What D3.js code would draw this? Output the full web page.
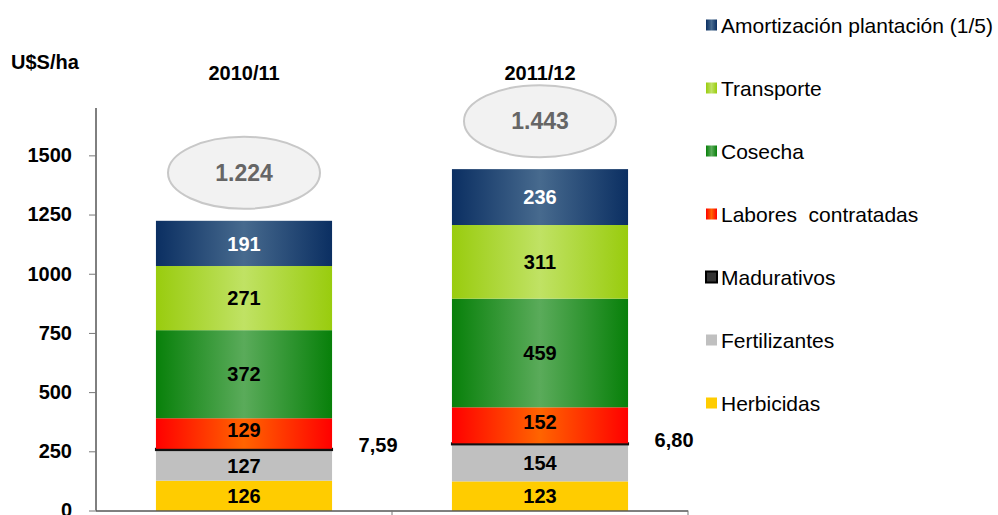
<!DOCTYPE html>
<meta charset="utf-8">
<script src="https://cdn.jsdelivr.net/npm/d3@7"></script>
<style>
  body { margin: 0; background: #fff; }
  text { font-family: "Liberation Sans", Arial, sans-serif; }
</style>
<body>
<script>

var width = 998
var height = 515

// data
var years = ["2010/11", "2011/12"]
var series = ["Herbicidas", "Fertilizantes", "Madurativos", "Labores  contratadas", "Cosecha", "Transporte", "Amortización plantación (1/5)"]
var herbicidas    = [126, 123]
var fertilizantes = [127, 154]
var madurativos   = [7.59, 6.80]
var labores       = [129, 152]
var cosecha       = [372, 459]
var transporte    = [271, 311]
var amortizacion  = [191, 236]
var totals = ["1.224", "1.443"]
var madLabels = ["7,59", "6,80"]
var yTicks = [0, 250, 500, 750, 1000, 1250, 1500]

var values = [herbicidas, fertilizantes, madurativos, labores, cosecha, transporte, amortizacion]

var x = d3.scaleBand().domain(years).range([96, 688]).paddingInner(0.405).paddingOuter(0.2025)
var y = d3.scaleLinear().domain([0, 1700]).range([510.5, 108])

var svg = d3.select("body").append("svg")
    .attr("width", width)
    .attr("height", height)

var defs = svg.append("defs")
function grad(id, edge, mid) {
  var g = defs.append("linearGradient").attr("id", id)
    .attr("x1", "0%").attr("x2", "100%").attr("y1", "0%").attr("y2", "0%")
  g.append("stop").attr("offset", "0%").attr("stop-color", edge)
  g.append("stop").attr("offset", "50%").attr("stop-color", mid)
  g.append("stop").attr("offset", "100%").attr("stop-color", edge)
}
grad("g-amort", "#0b2f62", "#476a8e")
grad("g-trans", "#99cc0e", "#c0e264")
grad("g-cos", "#08800a", "#5aab5a")
grad("g-lab", "#ff0000", "#ff6400")

var fills = ["#ffcc00", "#c0c0c0", "#111", "url(#g-lab)", "url(#g-cos)", "url(#g-trans)", "url(#g-amort)"]
var labelColors = ["#000", "#000", "#000", "#000", "#000", "#000", "#fff"]

// stack
var table = years.map(function(yr, i) {
  var row = {year: yr}
  series.forEach(function(s, k) { row[s] = values[k][i] })
  return row
})
var stacked = d3.stack().keys(series)(table)

var layers = svg.selectAll("g.layer").data(stacked).enter().append("g")
    .attr("class", "layer")

layers.each(function(layer, k) {
  var g = d3.select(this)
  g.selectAll("rect").data(layer).enter().append("rect")
    .attr("x", function(d) { return x(d.data.year) - (k == 2 ? 1 : 0) })
    .attr("width", x.bandwidth() + (k == 2 ? 2 : 0))
    .attr("y", function(d) { return y(d[1]) - (k == 2 ? 1 : 0) })
    .attr("height", function(d) { return y(d[0]) - y(d[1]) + (k == 2 ? 1.5 : 0) })
    .attr("fill", fills[k])
  if (k == 2) return
  g.selectAll("text").data(layer).enter().append("text")
    .attr("x", function(d) { return x(d.data.year) + x.bandwidth() / 2 })
    .attr("y", function(d) { return (y(d[0]) + y(d[1])) / 2 - (k == 3 ? 4 : 0) })
    .attr("dy", "0.36em")
    .attr("text-anchor", "middle")
    .style("font-size", "20px")
    .style("font-weight", "bold")
    .attr("fill", labelColors[k])
    .text(function(d) { return values[k][years.indexOf(d.data.year)] })
})

// madurativos labels
svg.selectAll("text.mad").data(stacked[2]).enter().append("text")
    .attr("class", "mad")
    .attr("x", function(d) { return x(d.data.year) + x.bandwidth() + 46 })
    .attr("y", function(d) { return y(d[1]) - 4 })
    .attr("dy", "0.36em")
    .attr("text-anchor", "middle")
    .style("font-size", "20px")
    .style("font-weight", "bold")
    .text(function(d, i) { return madLabels[i] })

// total ovals
var topLayer = stacked[stacked.length - 1]
var ov = svg.selectAll("g.oval").data(topLayer).enter().append("g").attr("class", "oval")
ov.append("ellipse")
    .attr("cx", function(d) { return x(d.data.year) + x.bandwidth() / 2 })
    .attr("cy", function(d) { return y(d[1]) - 48 })
    .attr("rx", 76).attr("ry", 36)
    .attr("fill", "#f2f2f2").attr("stroke", "#c8c8c8").attr("stroke-width", 2)
ov.append("text")
    .attr("x", function(d) { return x(d.data.year) + x.bandwidth() / 2 })
    .attr("y", function(d) { return y(d[1]) - 48 })
    .attr("dy", "0.36em")
    .attr("text-anchor", "middle")
    .style("font-size", "23px").style("font-weight", "bold")
    .attr("fill", "#666")
    .text(function(d, i) { return totals[i] })

// year headers
svg.selectAll("text.year").data(years).enter().append("text")
    .attr("class", "year")
    .attr("x", function(d) { return x(d) + x.bandwidth() / 2 })
    .attr("y", 73)
    .attr("dy", "0.36em")
    .attr("text-anchor", "middle")
    .style("font-size", "20px").style("font-weight", "bold")
    .text(function(d) { return d })

// axes
var yAxis = svg.append("g")
    .attr("transform", "translate(96,0)")
    .call(d3.axisLeft(y).tickValues(yTicks).tickSize(7).tickPadding(17).tickFormat(d3.format("d")))
yAxis.select(".domain").attr("d", "M0," + y(1700) + "V" + y(0)).attr("stroke", "#000")
yAxis.selectAll(".tick line").attr("stroke", "#777")
yAxis.selectAll(".tick text")
    .style("font-size", "20px").style("font-weight", "bold")
    .style("font-family", "'Liberation Sans', Arial, sans-serif")
    .attr("fill", "#000")

svg.append("line")
    .attr("x1", 96).attr("x2", 688).attr("y1", y(0) + 0.5).attr("y2", y(0) + 0.5)
    .attr("stroke", "#000")
svg.selectAll("line.xt").data([392, 688]).enter().append("line")
    .attr("class", "xt")
    .attr("x1", function(d) { return d }).attr("x2", function(d) { return d })
    .attr("y1", y(0)).attr("y2", y(0) + 6)
    .attr("stroke", "#777")

svg.append("text")
    .attr("x", 11).attr("y", 62)
    .attr("dy", "0.36em")
    .style("font-size", "20px").style("font-weight", "bold")
    .text("U$S/ha")

// legend
var legendOrder = series.slice().reverse()
var legendFills = fills.slice().reverse()
var lg = svg.selectAll("g.legend").data(legendOrder).enter().append("g")
    .attr("class", "legend")
    .attr("transform", function(d, i) { return "translate(706," + (25 + i * 63) + ")" })
lg.append("rect")
    .attr("x", 0).attr("y", -5.5).attr("width", 11).attr("height", 11)
    .attr("fill", function(d, i) { return legendFills[i] == "#111" ? "#333" : legendFills[i] })
    .attr("stroke", function(d, i) { return legendFills[i] == "#111" ? "#000" : "none" })
    .attr("stroke-width", 2)
lg.append("text")
    .attr("x", 15).attr("dy", "0.36em")
    .style("font-size", "21px")
    .style("white-space", "pre")
    .text(function(d) { return d })

</script>
</body>
